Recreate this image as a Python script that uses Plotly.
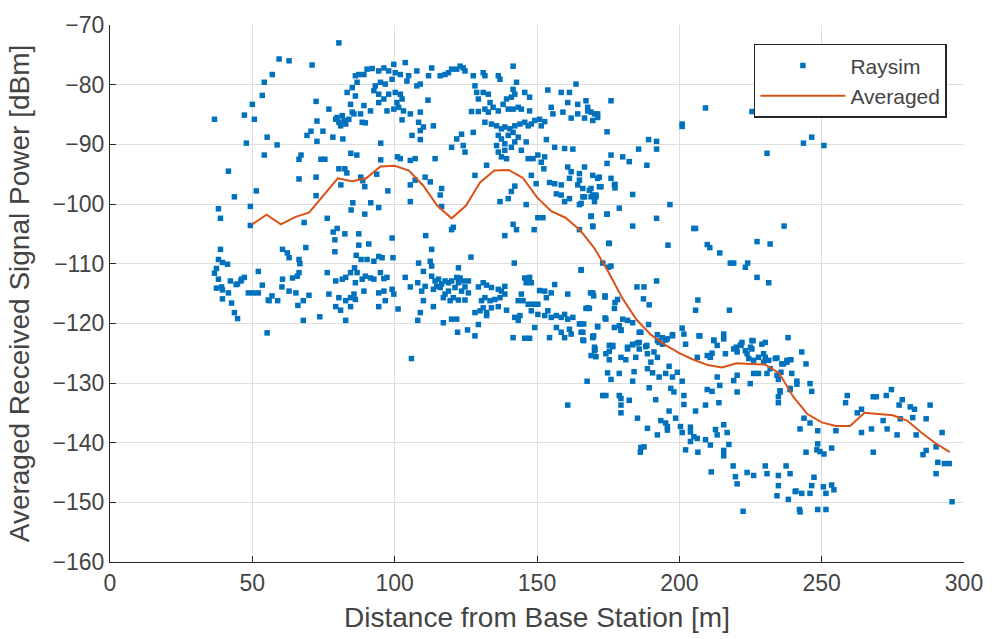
import plotly.graph_objects as go

# Averaged curve
avg_dist = [50, 55, 60, 65, 70, 75, 80, 85, 90, 95, 100, 105, 110, 115, 120, 125, 130, 135, 140, 145,
            150, 155, 160, 165, 170, 175, 180, 185, 190, 195, 200, 205, 210, 215, 220, 225, 230, 235,
            240, 245, 250, 255, 260, 265, 270, 275, 280, 285, 290, 295]
avg_power = [-103.4, -101.8, -103.4, -102.2, -101.4, -98.6, -95.7, -96.2, -95.7, -93.7, -93.6, -94.4,
             -96.9, -100.3, -102.4, -100.3, -96.4, -94.4, -94.3, -95.6, -98.9, -101.2, -102.3, -104.3,
             -107.3, -111.3, -115.8, -119.4, -121.9, -123.6, -125.0, -126.1, -127.0, -127.4, -126.7,
             -126.8, -126.9, -128.3, -132.3, -135.2, -136.6, -137.2, -137.2, -135.0, -135.2, -135.4,
             -136.3, -138.3, -140.1, -141.6]

# Raysim samples: (distance [m], power [dBm])
raysim_pts = [
    (36.7,-85.8),(47.2,-85.1),(50.7,-85.8),(50.0,-83.3),(55.2,-88.8),(47.9,-89.8),(54.2,-91.8),(41.6,-94.5),
    (51.4,-97.8),(43.7,-98.8),(38.1,-100.8),(49.3,-100.4),(38.8,-102.4),(49.3,-103.6),(38.8,-107.6),(38.1,-109.3),
    (39.5,-109.8),(41.3,-110.1),(37.4,-110.8),(36.7,-111.6),(38.1,-112.6),(37.4,-114.1),(39.2,-113.9),(39.5,-114.4),
    (41.6,-114.9),(39.5,-115.9),(42.7,-116.6),(43.7,-118.2),(44.8,-119.2),(42.3,-112.9),(44.8,-113.4),(46.2,-112.6),
    (47.2,-112.3),(52.1,-111.3),(53.5,-113.6),(48.6,-114.9),(50.3,-114.9),(52.1,-114.9),(55.6,-116.1),(55.2,-121.6),
    (80.4,-73.0),(59.4,-75.7),(62.9,-76.0),(71.0,-76.7),(57.0,-78.3),(54.2,-79.6),(53.5,-81.8),(72.4,-82.8),
    (76.9,-84.1),(72.7,-86.1),(70.6,-87.8),(69.2,-88.5),(74.8,-87.8),(72.7,-89.5),(78.3,-88.8),(81.8,-89.1),
    (58.7,-90.1),(67.1,-91.8),(66.4,-92.5),(74.1,-92.5),(75.5,-92.5),(66.4,-95.8),(72.4,-95.5),(80.4,-94.1),
    (82.5,-94.1),(83.2,-94.8),(84.6,-91.5),(86.7,-91.8),(95.1,-89.8),(95.1,-92.6),(93.7,-95.0),(88.1,-95.5),
    (88.8,-96.1),(89.5,-97.1),(81.1,-96.8),(97.6,-97.8),(72.4,-98.6),(85.3,-99.8),(91.6,-99.8),(94.4,-100.6),
    (101.0,-92.1),
    (86.2,-78.5),(87.4,-78.3),(89.2,-78.3),(90.3,-77.4),(92.1,-77.3),(94.4,-77.7),(96.2,-77.2),(97.9,-77.7),
    (99.7,-76.6),(100.2,-78.0),(99.1,-79.1),(96.7,-79.9),(95.0,-79.6),(93.2,-80.2),(92.7,-81.0),(94.4,-81.6),
    (96.2,-82.4),(97.9,-81.6),(100.2,-81.3),(100.8,-83.0),(99.7,-84.1),(97.3,-84.4),(94.4,-83.0),(91.5,-84.4),
    (89.2,-83.5),(88.0,-84.9),(86.2,-81.9),(85.1,-80.5),(86.8,-79.6),(83.3,-81.3),(84.5,-83.3),(85.1,-84.6),
    (81.6,-85.2),(79.3,-85.8),(80.4,-86.3),(82.8,-86.6),(83.9,-85.8),(89.7,-86.4),(88.6,-86.3),(85.7,-84.9),
    (79.8,-85.5),(81.0,-86.9),(82.2,-86.0),
    (103.7,-76.3),(102.0,-78.3),(104.9,-78.5),(104.3,-79.4),(107.8,-77.7),(109.0,-79.9),(107.8,-80.2),(111.9,-78.5),
    (113.0,-77.2),(116.0,-78.5),(117.7,-78.3),(118.9,-78.0),(120.0,-77.4),(121.8,-77.4),(123.0,-76.9),(124.1,-77.2),
    (124.7,-77.7),(127.6,-78.5),(131.1,-78.0),(131.7,-78.5),(136.4,-78.5),(137.0,-79.1),(141.6,-76.9),(102.0,-81.6),
    (102.6,-82.4),(101.4,-83.8),(103.1,-84.4),(105.5,-84.9),(102.6,-85.9),(109.0,-84.6),(111.7,-82.6),(108.4,-86.3),
    (110.1,-87.1),(109.0,-87.7),(113.6,-86.9),(106.1,-88.5),(109.0,-89.2),
    (128.2,-80.2),(128.8,-81.3),(129.4,-82.4),(131.1,-81.3),(132.9,-81.6),(133.5,-83.0),
    (127.0,-84.5),(129.4,-84.5),(131.7,-84.1),(132.9,-84.6),(134.6,-83.8),(136.4,-84.4),(138.1,-83.3),(139.3,-82.4),
    (141.0,-82.1),(142.2,-81.6),(142.8,-79.6),(141.6,-80.8),(139.9,-84.1),(141.6,-84.1),(143.4,-83.8),(144.5,-84.1),
    (145.7,-81.3),(147.4,-82.1),(147.4,-84.4),
    (131.7,-86.3),(134.0,-86.6),(135.8,-86.9),(137.5,-87.4),(138.7,-87.1),(140.5,-87.4),(142.2,-86.9),(144.0,-86.6),
    (145.7,-86.3),(146.9,-86.9),(148.0,-86.6),(149.2,-86.0),(150.9,-85.8),(152.7,-86.2),(151.5,-86.9),(136.4,-88.5),
    (137.5,-89.1),(138.7,-89.9),(139.9,-88.5),(135.8,-90.2),(136.4,-91.3),(137.5,-92.1),(139.3,-92.4),(138.7,-91.0),
    (141.0,-90.5),(142.2,-89.6),(143.4,-88.8),(141.6,-88.0),(146.2,-89.6),(144.5,-91.0),(146.9,-92.4),(148.6,-92.4),
    (150.3,-91.8),(151.5,-93.0),(152.7,-92.1),(152.4,-94.1),(153.3,-89.2),(153.8,-80.9),(156.2,-90.5),(159.7,-90.7),
    (162.6,-90.8),(155.0,-83.8),(155.6,-84.9),(159.1,-84.6),(162.0,-85.6),(164.3,-84.9),(158.5,-81.3),(161.4,-81.3),
    (160.8,-83.0),(163.7,-79.9),(164.3,-83.3),(167.2,-82.7),(167.8,-83.8),(169.0,-84.6),(170.2,-84.9),(171.3,-85.5),
    (169.6,-86.0),(166.7,-85.6),(167.8,-84.4),(176.0,-82.7),(174.6,-87.9),(176.0,-91.8),(174.6,-93.2),(176.0,-95.7),
    (154.4,-96.4),(156.2,-96.6),(158.5,-96.8),(156.8,-98.3),(158.5,-98.5),(159.7,-99.6),(161.4,-99.1),(162.0,-94.6),
    (161.4,-95.7),(160.8,-93.8),(164.9,-94.9),(164.9,-96.0),(164.3,-96.8),(166.1,-97.4),(166.7,-93.8),(169.6,-95.2),
    (171.3,-95.7),(171.9,-97.1),(170.7,-98.5),(169.0,-98.8),(166.1,-98.8),(165.5,-99.9),(169.0,-97.4),
    (102.0,-92.4),(105.5,-92.7),(107.2,-92.4),(114.2,-92.4),(110.7,-95.5),(112.5,-96.3),(105.5,-96.8),(107.2,-96.0),
    (116.5,-97.4),(116.0,-98.5),(105.5,-99.6),(116.5,-100.4),(120.0,-90.5),(121.8,-89.1),(123.5,-88.3),(124.1,-90.2),
    (124.7,-91.3),(127.6,-88.0),(128.2,-95.2),(132.3,-93.5),(142.2,-97.0),(141.0,-97.9),(139.9,-99.1),(137.0,-99.6),
    (146.2,-100.1),(148.0,-95.2),(149.7,-96.6),
    (68.2,-103.1),(76.3,-102.4),(84.7,-101.0),(89.5,-101.7),(79.8,-104.1),(78.4,-104.7),(82.5,-105.0),(79.0,-106.0),
    (87.4,-105.0),(87.4,-106.9),(90.9,-106.7),(79.0,-108.0),(99.1,-105.7),(86.5,-108.6),(88.2,-109.3),(90.3,-109.3),
    (92.7,-109.6),(94.4,-108.8),(95.6,-109.0),(99.4,-109.0),(60.6,-107.6),(62.3,-108.2),(62.9,-109.0),(68.8,-107.3),
    (66.4,-109.3),(66.7,-110.0),(66.4,-111.5),(65.8,-112.1),(60.6,-112.6),(60.4,-113.9),(64.1,-112.4),(44.3,-113.5),
    (46.0,-112.9),(62.9,-114.6),(65.3,-114.9),(69.9,-115.3),(56.9,-115.4),(58.9,-116.2),(55.9,-116.2),(67.9,-116.2),
    (66.0,-117.0),(67.9,-119.5),(73.7,-118.9),
    (76.3,-111.5),(79.3,-112.9),(81.6,-112.6),(82.8,-112.3),(84.5,-111.5),(85.9,-110.7),(86.8,-111.5),(86.2,-113.2),
    (88.6,-112.6),(89.7,-112.1),(91.5,-112.4),(92.7,-112.6),(95.0,-111.5),(96.2,-112.5),(97.3,-112.3),
    (76.9,-115.1),(80.4,-115.7),(82.8,-116.2),(84.5,-115.7),(85.7,-115.1),(86.2,-116.0),(89.2,-114.6),(79.3,-117.2),
    (81.0,-117.8),(84.5,-117.2),(82.8,-119.5),(94.4,-114.9),(96.2,-114.6),(99.1,-114.3),(99.7,-115.1),(96.7,-116.2),
    (94.4,-117.2),(101.2,-117.6),
    (120.6,-103.9),(120.0,-104.3),(110.9,-105.3),(113.0,-107.6),(126.8,-108.9),(141.6,-103.4),(142.8,-104.3),(138.7,-105.3),
    (149.0,-104.3),(150.3,-102.3),(152.1,-102.3),(164.9,-104.3),(169.6,-103.8),(169.0,-102.1),(174.6,-101.7),(175.2,-106.6),
    (142.0,-109.9),
    (108.4,-109.9),(112.5,-109.6),(113.0,-110.4),(110.1,-111.3),(103.7,-112.3),(108.1,-113.2),(110.7,-113.8),(105.5,-113.9),
    (109.5,-114.6),(110.1,-116.2),(109.0,-118.2),(108.1,-119.5),(113.6,-117.2),
    (113.0,-112.1),(114.2,-112.9),(115.4,-112.6),(116.5,-113.4),(117.7,-112.9),(118.9,-113.2),(120.0,-112.9),(121.8,-112.3),
    (123.0,-112.4),(122.4,-113.2),(124.1,-112.9),(125.9,-112.9),(124.7,-113.9),(123.5,-114.6),(121.2,-114.0),(118.9,-114.6),
    (117.7,-115.1),(116.0,-114.0),(114.8,-113.8),(113.6,-114.3),(117.1,-115.7),(119.5,-116.2),(120.6,-115.7),(122.4,-116.1),
    (124.7,-116.1),(125.9,-114.9),(129.4,-113.9),(131.1,-113.2),(132.3,-113.6),(134.0,-114.0),(136.4,-114.3),(137.5,-114.6),
    (138.7,-113.8),(138.7,-115.1),(137.0,-115.7),(135.2,-116.0),(133.5,-116.2),(131.7,-115.7),(130.5,-116.2),(131.1,-117.4),
    (130.0,-117.9),(132.3,-118.2),(134.0,-117.4),(136.4,-117.2),(139.3,-117.8),(128.2,-118.2),(132.3,-118.7),
    (122.4,-110.7),(121.8,-119.3),(120.0,-119.3),(117.1,-119.9),(129.4,-120.2),(122.1,-121.5),(125.6,-121.1),(128.2,-122.1),
    (142.2,-119.0),(144.0,-118.7),(143.4,-119.5),
    (145.7,-112.4),(147.4,-112.3),(146.2,-113.2),(148.0,-113.2),(144.5,-115.1),(143.4,-116.2),(145.1,-116.2),
    (146.9,-116.8),(148.6,-116.8),(150.3,-116.8),(148.0,-117.9),(150.3,-118.5),(152.7,-118.7),(153.8,-117.9),(155.0,-119.0),
    (156.8,-118.7),(158.5,-119.0),(159.7,-118.5),(160.8,-119.3),(162.6,-119.0),(156.2,-113.5),(155.0,-114.9),(152.7,-114.6),
    (150.9,-114.5),(153.3,-115.7),(160.8,-115.1),(156.8,-120.7),(158.5,-121.5),(159.7,-122.4),(162.0,-121.8),(161.4,-121.0),
    (154.4,-122.4),(149.2,-120.7),(141.6,-122.4),(145.7,-122.5),(147.4,-122.5),(165.3,-120.1),(166.1,-121.5),(169.6,-122.4),
    (171.3,-120.6),(167.8,-117.4),(168.8,-114.9),(169.9,-115.4),(173.9,-115.4),(174.2,-119.3),(177.2,-120.7),(175.4,-123.7),
    (170.2,-124.0),(165.5,-111.1),(173.1,-109.9),(176.0,-110.4),(105.9,-125.9),(160.8,-133.7),
    (168.4,-97.7),(169.6,-98.5),(166.7,-98.8),(170.7,-98.8),(170.2,-99.6),(164.9,-100.1),(172.5,-97.1),(177.2,-96.8),
    (183.6,-98.4),(196.7,-100.1),(178.9,-100.7),(174.6,-101.7),(169.0,-102.0),(169.6,-103.7),(183.6,-103.7),(192.0,-102.4),
    (196.0,-106.9),(175.4,-106.6),(165.5,-111.0),(175.1,-110.6),(192.0,-112.9),(185.1,-113.9),(187.6,-113.9),
    (169.6,-114.9),(173.9,-115.6),(187.4,-115.9),(178.3,-116.0),(177.4,-116.5),(168.4,-117.5),(167.2,-117.5),(189.4,-116.9),
    (177.2,-117.5),
    (173.9,-119.1),(180.1,-119.3),(181.8,-119.5),(183.6,-119.9),(178.9,-120.4),(179.5,-121.1),(164.9,-120.1),(166.4,-120.1),
    (171.3,-120.5),(169.9,-122.1),(165.5,-121.5),(166.4,-122.9),(185.9,-121.5),(189.2,-120.2),(192.3,-121.9),(194.1,-122.4),
    (195.2,-122.8),(192.9,-123.2),(197.6,-121.9),(201.0,-120.8),(201.6,-121.8),(202.2,-123.5),(207.2,-122.1),(212.1,-122.8),
    (215.6,-121.8),(215.6,-122.6),(213.3,-123.7),(220.0,-124.0),(221.7,-123.6),(225.9,-122.9),(225.0,-124.0),(229.0,-123.5),
    (230.2,-123.2),(238.2,-122.4),(188.6,-123.7),(185.9,-123.2),(183.6,-123.5),(176.6,-123.7),(170.4,-124.3),(181.8,-124.3),
    (205.1,-104.1),(205.7,-104.1),(209.8,-106.8),(210.7,-107.3),(214.2,-108.2),(217.9,-109.9),(219.1,-109.9),(223.2,-110.6),
    (224.0,-109.9),(227.3,-106.3),(231.9,-106.7),(227.3,-112.3),(231.4,-113.2),(236.8,-103.7),(206.5,-116.1),(205.7,-117.8),
    (217.6,-117.8),
    (171.3,-84.9),(189.2,-89.2),(192.0,-89.5),(192.0,-90.8),(185.7,-90.8),(180.1,-92.1),(182.4,-92.9),(188.6,-93.5),
    (171.9,-95.5),(177.4,-96.7),(177.4,-97.3),(201.0,-86.6),(201.0,-87.0),(209.2,-83.9),(225.5,-84.5),(227.3,-84.9),
    (230.8,-91.5),(243.6,-89.8),(246.5,-88.8),(250.8,-90.2),
    (243.0,-124.8),(234.3,-125.8),(236.6,-126.8),(237.8,-126.5),(239.2,-126.1),(244.5,-126.8),(234.8,-129.4),(239.5,-128.4),
    (241.3,-129.7),(241.3,-130.2),(238.9,-131.1),(235.4,-131.3),(245.9,-130.1),(246.5,-131.4),(234.8,-132.3),(234.8,-133.3),
    (243.8,-135.9),(245.9,-136.7),(242.4,-137.7),(248.6,-138.0),(248.6,-140.2),(248.3,-141.2),(249.4,-141.5),(250.8,-141.9),
    (253.5,-140.9),(244.5,-141.6),(237.5,-143.9),(234.8,-145.5),(238.9,-145.2),(247.3,-145.8),(246.5,-147.2),(234.8,-147.2),
    (234.3,-148.9),(238.3,-149.5),(241.0,-148.1),(243.0,-148.5),(245.9,-148.5),(250.6,-147.4),(251.5,-148.5),(253.5,-147.1),
    (254.3,-147.9),(242.2,-151.2),(242.4,-151.6),(248.6,-151.2),(251.5,-151.2),(255.0,-138.0),(258.4,-133.3),(259.0,-132.1),
    (262.5,-135.0),(264.0,-134.4),(264.0,-138.3),(267.5,-137.7),(268.1,-132.3),(269.2,-132.3),(268.1,-141.6),(271.6,-136.3),
    (272.7,-132.1),(274.5,-131.1),(273.0,-137.7),(276.5,-138.7),(277.2,-133.7),(278.3,-132.8),(277.6,-136.0),(281.1,-134.0),
    (282.6,-134.4),(282.0,-135.8),(283.2,-138.7),(286.7,-136.0),(288.1,-133.7),(292.3,-138.3),(290.2,-140.7),(285.6,-142.0),
    (286.7,-141.3),(290.8,-143.3),(293.1,-143.5),(294.8,-143.5),(290.2,-145.2),(295.8,-149.9),
    (166.1,-122.8),(169.6,-122.2),(179.5,-121.2),(186.5,-121.5),(170.2,-124.6),(169.0,-125.4),(170.7,-125.6),(174.2,-125.1),
    (175.4,-124.7),(176.6,-123.9),(175.4,-126.1),(179.5,-125.7),(181.2,-126.1),(181.8,-124.0),(183.6,-123.6),(185.3,-123.3),
    (185.9,-124.3),(188.2,-123.9),(184.7,-125.7),(188.8,-125.1),(191.1,-124.8),(192.3,-125.7),(190.0,-126.5),(188.8,-127.6),
    (192.3,-122.9),(194.1,-123.5),(195.8,-122.6),(197.6,-122.1),(206.3,-125.7),(206.9,-122.1),(209.8,-125.4),(210.9,-125.7),
    (211.5,-125.0),(212.1,-122.9),(216.2,-125.1),(219.1,-124.3),(221.4,-123.7),(220.3,-124.8),(222.0,-123.2),(223.2,-124.6),
    (223.8,-125.1),(225.5,-122.9),(225.5,-124.3),(224.4,-125.9),(226.1,-126.2),(227.8,-125.7),(229.6,-125.1),(230.2,-125.7),
    (231.4,-126.2),(231.9,-127.6),(233.7,-125.9),(236.0,-126.8),(237.8,-126.2),(234.3,-128.7),(230.8,-128.4),(227.8,-128.4),
    (224.9,-130.1),(226.1,-128.4),(219.1,-129.6),(220.3,-128.7),(220.3,-131.5),(213.3,-129.0),(214.2,-130.4),(209.8,-131.1),
    (211.5,-131.4),(213.9,-133.3),(209.2,-133.7),(205.7,-134.7),(201.6,-132.1),(201.0,-129.7),(199.3,-128.2),(197.6,-129.0),
    (195.2,-128.4),(192.9,-129.0),(196.4,-127.2),(190.6,-128.3),(184.1,-128.1),(178.9,-128.4),(174.8,-128.3),(176.0,-129.4),
    (183.6,-129.7),(167.6,-129.7),(173.1,-132.1),(174.2,-132.1),(178.9,-132.1),(179.5,-132.6),(182.4,-132.9),(179.5,-133.7),
    (179.5,-135.0),(185.3,-135.9),(189.4,-130.8),(191.7,-132.8),(197.0,-130.9),(198.1,-131.5),(201.6,-133.6),(196.4,-134.7),
    (198.7,-135.9),(193.5,-136.3),(195.2,-136.7),(195.8,-137.3),(195.8,-137.9),(192.3,-138.7),(188.8,-137.6),(200.4,-137.3),
    (201.0,-138.3),(203.9,-137.4),(203.9,-138.2),(205.1,-139.0),(206.3,-139.3),(203.9,-139.8),(209.2,-139.5),(210.9,-140.4),
    (212.7,-137.8),(213.3,-138.7),(215.6,-137.0),(216.8,-138.3),(217.4,-140.3),(215.6,-141.3),(215.6,-142.2),(202.2,-141.2),
    (206.5,-141.6),(187.6,-140.7),(186.5,-140.8),(186.3,-141.6),(211.2,-144.9),(218.9,-143.9),(219.7,-145.7),(220.3,-146.9),
    (223.8,-145.0),(226.1,-145.5),(230.2,-143.9),(230.8,-145.2),(240.7,-148.2),(222.4,-151.5),(235.4,-131.5),(238.9,-130.9),
    (235.7,-128.2),(229.6,-126.5),
]
raysim_dist = [p[0] for p in raysim_pts]
raysim_power = [p[1] for p in raysim_pts]

x_ticks = [0, 50, 100, 150, 200, 250, 300]
y_ticks = [-160, -150, -140, -130, -120, -110, -100, -90, -80, -70]

BLUE = "#0072BD"
ORANGE = "#D95319"
TXT = "#444444"
AX = "#262626"
GRID = "#dedede"
FONT = "Liberation Sans, Arial, sans-serif"

fig = go.Figure()
fig.add_trace(go.Scatter(
    x=raysim_dist, y=raysim_power, mode="markers", name="Raysim",
    marker=dict(symbol="square", size=5.5, color=BLUE, line=dict(width=0)),
))
fig.add_trace(go.Scatter(
    x=avg_dist, y=avg_power, mode="lines", name="Averaged",
    line=dict(color=ORANGE, width=2),
))

axis_common = dict(
    showgrid=True, gridcolor=GRID, gridwidth=1,
    showline=True, linecolor=AX, linewidth=1.2,
    ticks="inside", ticklen=6, tickcolor=AX, tickwidth=1,
    zeroline=False, mirror=False,
    tickfont=dict(family=FONT, size=23, color=TXT),
)

fig.update_layout(
    width=995, height=639,
    margin=dict(l=110, r=27, t=22, b=76),
    paper_bgcolor="white", plot_bgcolor="white",
    font=dict(family=FONT, color=TXT),
    xaxis=dict(range=[0, 300], tickvals=x_ticks,
               title=dict(text="Distance from Base Station [m]",
                          font=dict(family=FONT, size=28, color=TXT), standoff=12),
               **axis_common),
    yaxis=dict(range=[-160, -70], tickvals=y_ticks,
               title=dict(text="Averaged Received Signal Power [dBm]",
                          font=dict(family=FONT, size=28, color=TXT), standoff=14),
               **axis_common),
    legend=dict(
        x=0.98, y=0.965, xanchor="right", yanchor="top",
        bgcolor="white", bordercolor=AX, borderwidth=1.5,
        font=dict(family=FONT, size=21, color=TXT),
        itemwidth=85, tracegroupgap=0,
    ),
    showlegend=True,
)

fig.write_html("out.html")
